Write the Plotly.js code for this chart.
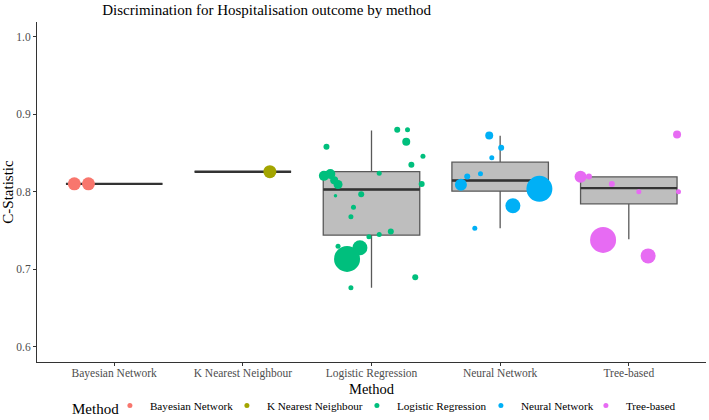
<!DOCTYPE html>
<html>
<head>
<meta charset="utf-8">
<script src="https://cdn.plot.ly/plotly-3.0.1.min.js"></script>
<style>html,body{margin:0;padding:0;background:#fff;}#chart{width:709px;height:420px;}</style>
</head>
<body>
<div id="chart"></div>
<script>
// ---- Data ----
const categories = ["Bayesian Network", "K Nearest Neighbour", "Logistic Regression", "Neural Network", "Tree-based"];
const colors = ["#F8766D", "#A3A500", "#00BF7D", "#00B0F6", "#E76BF3"];

// box statistics per method
const boxLower  = [0.8103, 0.826, 0.6765, 0.7532, 0.739];
const boxQ1     = [0.8103, 0.826, 0.7441, 0.8009, 0.7845];
const boxMedian = [0.8103, 0.826, 0.803,  0.8146, 0.8048];
const boxQ3     = [0.8103, 0.826, 0.8262, 0.8383, 0.8194];
const boxUpper  = [0.8103, 0.826, 0.879,  0.8723, 0.8194];

// individual study C-statistics, jitter offsets (category units) and point weights
const bnValues = [0.8103, 0.8103];
const bnJitter = [-0.31, -0.20];
const bnWeight = [13, 13];

const knnValues = [0.826];
const knnJitter = [0.21];
const knnWeight = [13];

const lrValues = [0.858, 0.880, 0.880, 0.8645, 0.846, 0.835, 0.8206, 0.823, 0.815, 0.8094, 0.824, 0.810, 0.795, 0.797, 0.780, 0.768, 0.749, 0.745, 0.742, 0.730, 0.728, 0.7135, 0.690, 0.6765];
const lrJitter = [-0.35, 0.20, 0.28, 0.27, 0.40, 0.31, -0.37, -0.32, -0.29, -0.26, 0.06, 0.39, -0.28, -0.08, -0.14, -0.16, 0.15, 0.06, -0.02, -0.26, -0.09, -0.19, 0.34, -0.16];
const lrWeight = [6, 6, 5, 8, 5, 6, 10, 10, 8, 9, 5, 6, 3.5, 6, 5, 5, 6, 5, 5, 5, 15, 26, 6, 5];

const nnValues = [0.8727, 0.8568, 0.8439, 0.8232, 0.8198, 0.809, 0.8039, 0.782, 0.7532];
const nnJitter = [-0.085, 0.008, -0.065, -0.153, -0.256, -0.305, 0.305, 0.099, -0.197];
const nnWeight = [8, 6, 5, 5, 6, 12, 26, 15, 5];

const tbValues = [0.874, 0.8194, 0.8198, 0.810, 0.800, 0.800, 0.738, 0.7174];
const tbJitter = [0.375, -0.375, -0.31, -0.132, 0.078, 0.386, -0.20, 0.15];
const tbWeight = [8, 12, 6, 6, 5, 5, 26, 15];

const yTicks = [0.6, 0.7, 0.8, 0.9, 1.0];

// ---- Build traces ----
const serif = "Liberation Serif, Times New Roman, serif";
const idx = categories.map((_, i) => i);
const boxWidth = 0.75;
const legendWidths = [72, 85, 79, 60, 50];

const traces = [];
traces.push({
  type: "box",
  x: idx,
  q1: boxQ1, median: boxMedian, q3: boxQ3,
  lowerfence: boxLower, upperfence: boxUpper,
  width: boxWidth,
  whiskerwidth: 0,
  fillcolor: "#BEBEBE",
  line: {color: "#595959", width: 1.3},
  boxpoints: false,
  hoverinfo: "skip",
  showlegend: false
});
// thicker median lines (drawn beneath the points)
idx.forEach(i => {
  traces.push({
    type: "scatter", mode: "lines",
    x: [i - boxWidth / 2, i + boxWidth / 2],
    y: [boxMedian[i], boxMedian[i]],
    line: {color: "#333333", width: 2.4},
    hoverinfo: "skip", showlegend: false
  });
});

const groups = [
  [bnValues, bnJitter, bnWeight],
  [knnValues, knnJitter, knnWeight],
  [lrValues, lrJitter, lrWeight],
  [nnValues, nnJitter, nnWeight],
  [tbValues, tbJitter, tbWeight]
];
groups.forEach(([vals, jit, w], i) => {
  traces.push({
    type: "scatter", mode: "markers",
    x: vals.map((_, k) => i + jit[k]),
    y: vals,
    marker: {color: colors[i], size: w, opacity: 1, line: {width: 0}},
    name: categories[i],
    showlegend: false
  });
});
// legend entries
categories.forEach((c, i) => {
  traces.push({
    type: "scatter", mode: "markers",
    x: [null], y: [null],
    marker: {color: colors[i], size: 5},
    name: c, showlegend: true,
    legendwidth: legendWidths[i]
  });
});

const layout = {
  width: 709, height: 420,
  margin: {l: 37, r: 3, t: 22, b: 58},
  paper_bgcolor: "#ffffff",
  plot_bgcolor: "#ffffff",
  font: {family: serif, color: "#000"},
  title: {
    text: "Discrimination for Hospitalisation outcome by method",
    font: {family: serif, size: 15, color: "#000"},
    xref: "container", x: 0.376, xanchor: "center",
    yref: "container", y: 0.976, yanchor: "middle"
  },
  xaxis: {
    range: [-0.6, 4.6],
    tickmode: "array", tickvals: idx, ticktext: categories,
    showline: true, linecolor: "#333", linewidth: 1,
    ticks: "outside", ticklen: 3, tickcolor: "#333",
    showgrid: false, zeroline: false,
    tickfont: {family: serif, size: 11.5, color: "#4d4d4d"},
    ticklabelstandoff: -3
  },
  yaxis: {
    range: [0.5806, 1.019],
    tickmode: "array", tickvals: yTicks, tickformat: ".1f",
    showline: true, linecolor: "#333", linewidth: 1,
    ticks: "outside", ticklen: 3, tickcolor: "#333",
    showgrid: false, zeroline: false,
    tickfont: {family: serif, size: 11.5, color: "#4d4d4d"},
    title: {text: "C-Statistic", font: {family: serif, size: 15, color: "#000"}, standoff: 6}
  },
  annotations: [{
    text: "Method", showarrow: false,
    xref: "paper", x: 0.5, xanchor: "center",
    yref: "paper", y: -0.0794, yanchor: "middle",
    font: {family: serif, size: 14.5, color: "#000"}
  }, {
    text: "Method", showarrow: false,
    xref: "paper", x: 0.0493, xanchor: "left",
    yref: "paper", y: -0.137, yanchor: "middle",
    font: {family: serif, size: 15, color: "#000"}
  }],
  showlegend: true,
  legend: {
    orientation: "h",
    xref: "container", x: 0.155, xanchor: "left",
    yref: "container", y: -0.045, yanchor: "bottom",
    font: {family: serif, size: 11.2, color: "#000"},
    entrywidthmode: "pixels",
    bgcolor: "rgba(0,0,0,0)"
  }
};

Plotly.newPlot("chart", traces, layout, {displayModeBar: false, staticPlot: true});
</script>
</body>
</html>
